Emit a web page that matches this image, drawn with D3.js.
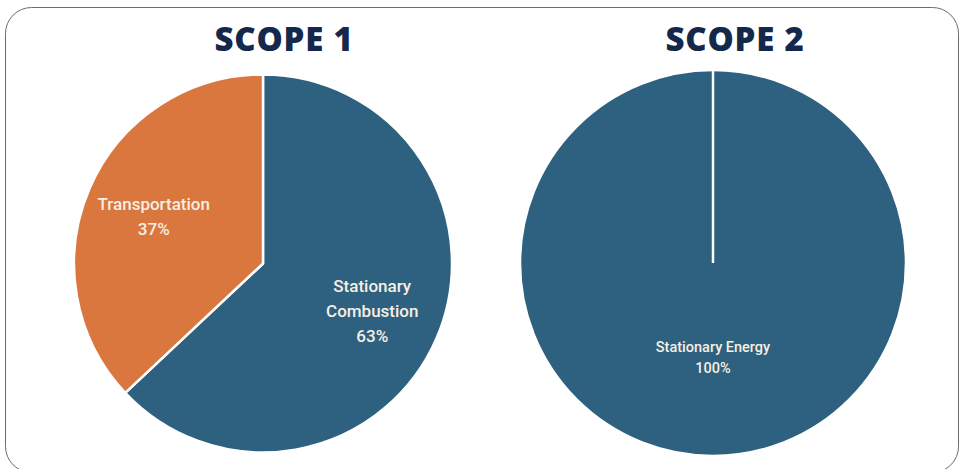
<!DOCTYPE html>
<html>
<head>
<meta charset="utf-8">
<script src="https://cdn.jsdelivr.net/npm/d3@7"></script>
<style>
  body { margin: 0; background: #fff; }
</style>
</head>
<body>
<svg id="chart" width="961" height="469"></svg>
<script>
// data
var scope1Labels = ["Stationary Combustion", "Transportation"];
var scope1Values = [63, 37];
var scope2Labels = ["Stationary Energy"];
var scope2Values = [100];
var titles = ["SCOPE 1", "SCOPE 2"];

var blue = "#2e6080", orange = "#d9773e";

var svg = d3.select("#chart");

// rounded frame
svg.append("rect").attr("x", 5.5).attr("y", 7.5).attr("width", 953).attr("height", 465)
  .attr("rx", 26).attr("fill", "none").attr("stroke", "#6b6b6b").attr("stroke-width", 1);

var pie = d3.pie().sort(null).value(function(d) { return d.value; });

function drawPie(cx, cy, r, labels, values, colors, labelK, title, titleX, labelLines, fontSize, lineH) {
  var data = labels.map(function(l, i) { return { label: l, value: values[i] }; });
  var arcs = pie(data);
  var arc = d3.arc().innerRadius(0).outerRadius(r);
  var labelArc = d3.arc().innerRadius(r * labelK).outerRadius(r * labelK);
  var g = svg.append("g").attr("transform", "translate(" + cx + "," + cy + ")");

  g.selectAll("path.slice").data(arcs).enter().append("path")
    .attr("class", "slice")
    .attr("d", arc)
    .attr("fill", function(d, i) { return colors[i]; })
    .attr("stroke", "#fff").attr("stroke-width", 2.5).attr("stroke-linejoin", "round");

  // single full slice still shows its start edge
  if (arcs.length === 1) {
    var p = d3.pointRadial(arcs[0].startAngle, r + 1);
    g.append("line").attr("x1", 0).attr("y1", 0).attr("x2", p[0]).attr("y2", p[1])
      .attr("stroke", "#fff").attr("stroke-width", 2.5);
  }

  arcs.forEach(function(d, i) {
    var c = labelArc.centroid(d);
    var lines = labelLines[i].concat([Math.round(d.value) + "%"]);
    var t = g.append("text")
      .attr("text-anchor", "middle")
      .attr("font-family", "Roboto, 'Noto Sans', sans-serif")
      .attr("font-weight", 500)
      .attr("font-size", fontSize + "px")
      .attr("fill", "#f6efe4");
    var y0 = c[1] - (lines.length - 1) * lineH / 2;
    lines.forEach(function(s, j) {
      t.append("tspan").attr("x", c[0]).attr("y", y0 + j * lineH).attr("dy", "0.35em").text(s);
    });
  });

  svg.append("text").attr("x", titleX).attr("y", 51)
    .attr("text-anchor", "middle")
    .attr("font-family", "'Open Sans', Lato, sans-serif")
    .attr("font-weight", 800)
    .attr("font-size", "33px")
    .attr("letter-spacing", "0.8px")
    .attr("fill", "#14284b")
    .text(title);
}

drawPie(263, 263.5, 189, scope1Labels, scope1Values, [blue, orange], 0.63, titles[0], 284,
  [["Stationary", "Combustion"], ["Transportation"]], 17, 25);
drawPie(713, 263, 193, scope2Labels, scope2Values, [blue], 0.49, titles[1], 735,
  [["Stationary Energy"]], 14.5, 21);
</script>
</body>
</html>
